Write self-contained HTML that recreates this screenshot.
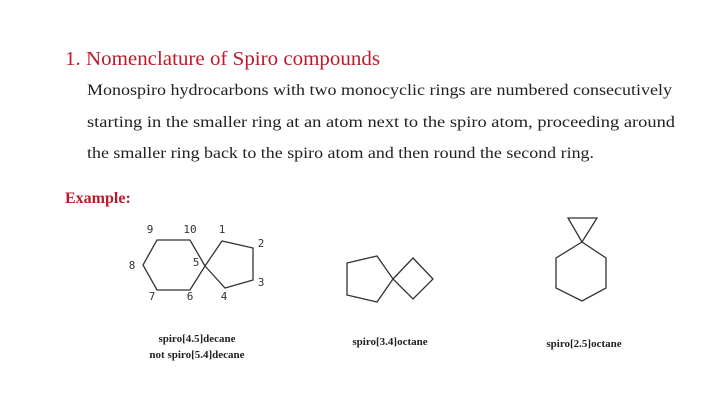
<!DOCTYPE html>
<html><head><meta charset="utf-8"><style>html,body{margin:0;padding:0;background:#fff}svg{display:block}</style></head>
<body>
<svg width="720" height="404" viewBox="0 0 720 404" xmlns="http://www.w3.org/2000/svg" font-family="Liberation Serif, serif">
<rect width="720" height="404" fill="#fff"/>
<text x="65" y="65" font-size="20.5" fill="#c0182a" textLength="315" lengthAdjust="spacingAndGlyphs">1. Nomenclature of Spiro compounds</text>
<g font-size="16" fill="#222">
<text x="87" y="95" textLength="585" lengthAdjust="spacingAndGlyphs">Monospiro hydrocarbons with two monocyclic rings are numbered consecutively</text>
<text x="87" y="127" textLength="588" lengthAdjust="spacingAndGlyphs">starting in the smaller ring at an atom next to the spiro atom, proceeding around</text>
<text x="87" y="158" textLength="507" lengthAdjust="spacingAndGlyphs">the smaller ring back to the spiro atom and then round the second ring.</text>
</g>
<text x="65" y="203" font-size="16" font-weight="bold" fill="#c0182a">Example:</text>
<g fill="none" stroke="#333" stroke-width="1.3">
<polygon points="157,240 190,240 205,266 190,290 157,290 143,265"/>
<polygon points="205,266 222,241 253,248 253,280 225,288"/>
<polygon points="347,263 377,256 393,279 377,302 347,295"/>
<polygon points="393,279 413,258 433,279 413,299"/>
<polygon points="568,218 597,218 582,242"/>
<polygon points="582,242 606,258 606,288 582,301 556,288 556,258"/>
</g>
<g font-size="11" fill="#333" text-anchor="middle" font-family="DejaVu Sans Mono, monospace">
<text x="150" y="233">9</text><text x="190" y="233">10</text><text x="222" y="233">1</text>
<text x="261" y="247">2</text><text x="132" y="269">8</text><text x="196" y="266">5</text>
<text x="261" y="286">3</text><text x="152" y="300">7</text><text x="190" y="300">6</text><text x="224" y="300">4</text>
</g>
<g font-size="11" font-weight="bold" fill="#222" text-anchor="middle">
<text x="197" y="342">spiro[4.5]decane</text>
<text x="197" y="358">not spiro[5.4]decane</text>
<text x="390" y="345">spiro[3.4]octane</text>
<text x="584" y="347">spiro[2.5]octane</text>
</g>
</svg>
</body></html>
